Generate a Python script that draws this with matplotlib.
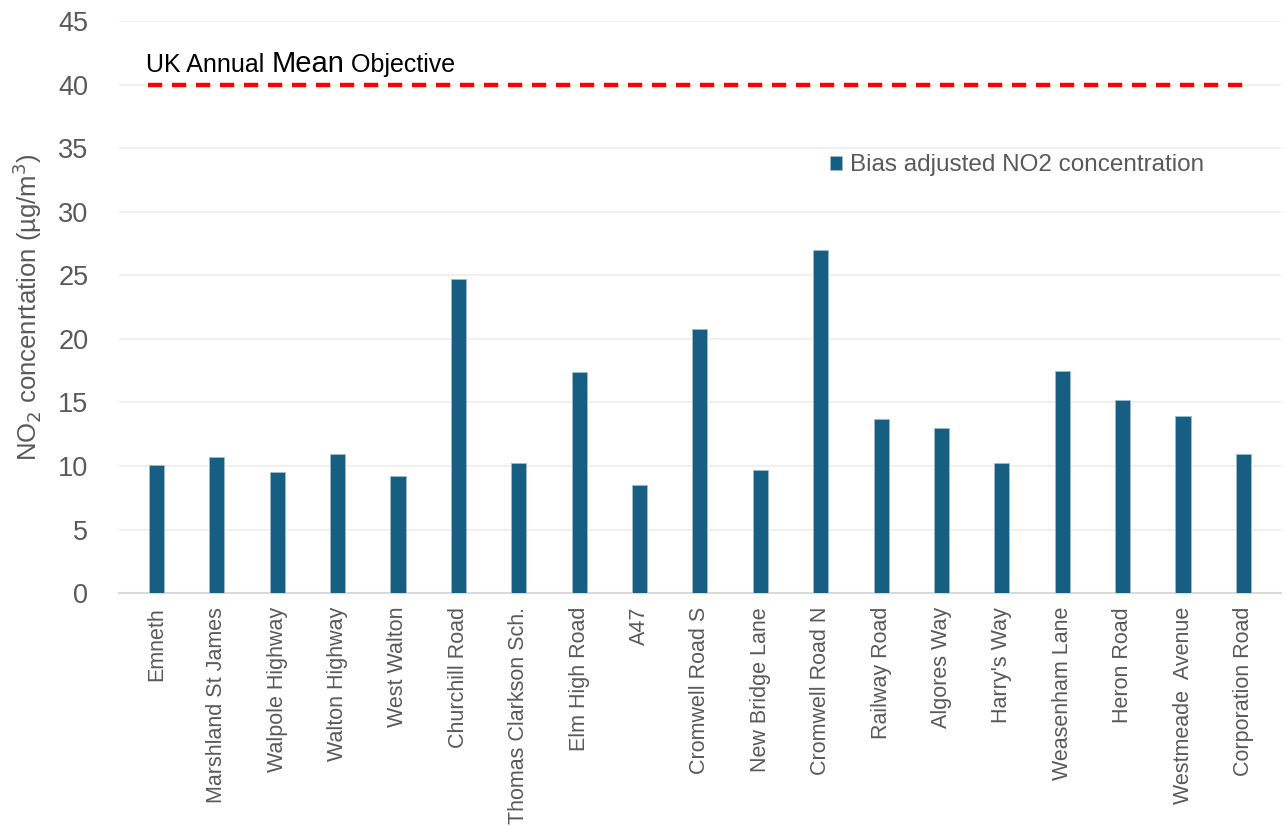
import matplotlib
matplotlib.use("Agg")
import matplotlib.pyplot as plt
import numpy as np

plt.rcParams['font.family'] = ['Liberation Sans', 'DejaVu Sans']

sites = ['Emneth', 'Marshland St James', 'Walpole Highway', 'Walton Highway',
         'West Walton', 'Churchill Road', 'Thomas Clarkson Sch.', 'Elm High Road',
         'A47', 'Cromwell Road S', 'New Bridge Lane', 'Cromwell Road N',
         'Railway Road', 'Algores Way', "Harry's Way", 'Weasenham Lane',
         'Heron Road', 'Westmeade  Avenue', 'Corporation Road']
no2 = [10.1, 10.7, 9.5, 10.9, 9.2, 24.7, 10.2, 17.4, 8.5, 20.8,
       9.7, 27.0, 13.7, 13.0, 10.2, 17.5, 15.2, 13.9, 10.9]
objective = 40
y_ticks = [0, 5, 10, 15, 20, 25, 30, 35, 40, 45]

grey = '#595959'
bar_col = '#175F82'

fig = plt.figure(figsize=(12.86, 8.26), dpi=100)
ax = fig.add_axes([0.0925, 0.282, 0.9035, 0.6926])

x = np.arange(len(sites))
ax.bar(x, no2, width=0.25, color=bar_col, edgecolor='#9DBBCB', linewidth=0.6,
       label='Bias adjusted NO2 concentration', zorder=3)

# objective line
ax.axhline(objective, xmin=0.025, xmax=0.973, color='#FF0000', lw=3.2,
           ls=(0, (3.2, 2.2)), zorder=4)

ax.set_xlim(-0.62, len(sites) - 0.38)
ax.set_ylim(0, 45)
ax.set_yticks(y_ticks)
ax.set_xticks(x)
ax.set_xticklabels(sites, rotation=90, fontsize=15.5, color=grey)
ax.tick_params(axis='y', labelsize=19.5, colors=grey, length=0, pad=22)
ax.tick_params(axis='x', length=0, pad=10)
ax.grid(axis='y', color='#EEEEEE', lw=1.2, zorder=0)
for s in ['top', 'right', 'left']:
    ax.spines[s].set_visible(False)
ax.spines['bottom'].set_color('#D9D9D9')
ax.spines['bottom'].set_linewidth(1.5)

ax.set_ylabel('NO$_2$ concenrtation (µg/m$^3$)', fontsize=18.5, color=grey,
              labelpad=10)

# label above the objective line, "Mean" set a little larger
fig.canvas.draw()
r = fig.canvas.get_renderer()
parts = [('UK Annual ', 18), ('Mean', 21), (' Objective', 18)]
xd, yd = ax.transData.transform((-0.17, 41.0))
for txt, fs in parts:
    t = fig.text(xd / fig.dpi / fig.get_figwidth(), yd / fig.dpi / fig.get_figheight(),
                 txt, fontsize=fs, color='black', ha='left', va='baseline')
    xd = t.get_window_extent(r).x1

ax.legend(loc='upper left', bbox_to_anchor=(0.593, 0.805), frameon=False,
          fontsize=17.5, labelcolor=grey, handlelength=0.5, handleheight=0.5,
          handletextpad=0.35)

fig.savefig('out.png', dpi=100)
